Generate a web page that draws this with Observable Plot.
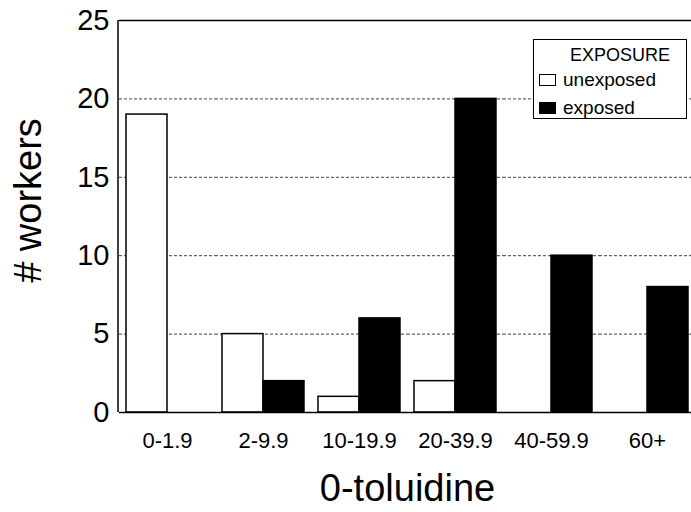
<!DOCTYPE html>
<html>
<head>
<meta charset="utf-8">
<script src="https://cdn.jsdelivr.net/npm/d3@7"></script>
<script src="https://cdn.jsdelivr.net/npm/@observablehq/plot@0.6"></script>
<style>
  html, body { margin: 0; padding: 0; background: #fff; }
  #wrap { position: relative; width: 691px; height: 512px; overflow: hidden; font-family: "Liberation Sans", Arial, sans-serif; }
  #legend { position: absolute; left: 533px; top: 39px; width: 152px; height: 78px; border: 1.5px solid #000; background: #fff; color: #000; }
  #legend .title { position: absolute; left: 0; right: 0; top: 5px; text-align: center; font-size: 18px; line-height: 20px; padding-left: 20px; }
  #legend .row { position: absolute; left: 5px; font-size: 19px; line-height: 20px; display: flex; align-items: center; }
  #legend .sw { width: 17px; height: 12px; border: 1.5px solid #000; margin-right: 7px; box-sizing: border-box; }
</style>
</head>
<body>
<div id="wrap"></div>
<script>
const categories = ["0-1.9", "2-9.9", "10-19.9", "20-39.9", "40-59.9", "60+"];
const exposures = ["unexposed", "exposed"];
const unexposed = [19, 5, 1, 2, 0, 0];
const exposed = [0, 2, 6, 20, 10, 8];
const yTicks = [0, 5, 10, 15, 20, 25];
const gridTicks = [5, 10, 15, 20];
const colors = ["#ffffff", "#000000"];
const yTitle = "# workers";
const xTitle = "0-toluidine";

const rows = [];
categories.forEach((c, i) => {
  if (unexposed[i] > 0) rows.push({category: c, exposure: "unexposed", count: unexposed[i]});
  if (exposed[i] > 0) rows.push({category: c, exposure: "exposed", count: exposed[i]});
});

const chart = Plot.plot({
  width: 691,
  height: 512,
  marginLeft: 118,
  marginRight: -4,
  marginTop: 20,
  marginBottom: 100,
  style: {fontFamily: "'Liberation Sans', Arial, sans-serif", color: "#000", background: "#fff", overflow: "visible"},
  fx: {domain: categories, paddingInner: 0, paddingOuter: 0},
  x: {domain: exposures, paddingInner: 0, paddingOuter: 0.159, axis: null},
  y: {domain: [0, 25]},
  color: {domain: exposures, range: colors},
  marks: [
    Plot.ruleY(gridTicks, {stroke: "#000", strokeWidth: 1, strokeDasharray: "3,2", strokeOpacity: 0.75}),
    Plot.barY(rows, {fx: "category", x: "exposure", y: "count", fill: "exposure", stroke: "#000", strokeWidth: 1.5}),
    Plot.ruleY([0, 25], {stroke: "#000", strokeWidth: 1.5}),
    Plot.axisY({ticks: yTicks, tickSize: 0, tickPadding: 10, fontSize: 29, label: null}),
    Plot.text([yTitle], {fx: () => categories[0], text: d => d, frameAnchor: "left", textAnchor: "middle", lineAnchor: "middle", rotate: -90, dx: -91, dy: -16, fontSize: 38, fill: "#000"}),
    Plot.axisFx({anchor: "bottom", tickSize: 0, tickPadding: 20, fontSize: 22, label: null}),
    Plot.axisFx({anchor: "bottom", ticks: [], label: xTitle, labelAnchor: "center", labelArrow: "none", labelOffset: 88, fontSize: 38, dx: -6})
  ]
});

const wrap = document.getElementById("wrap");
wrap.appendChild(chart);

// left frame border
const ys = chart.scale("y");
d3.select(chart).append("line")
  .attr("x1", 118).attr("x2", 118)
  .attr("y1", ys.apply(0)).attr("y2", ys.apply(25))
  .attr("stroke", "#000").attr("stroke-width", 1.5);

// legend
const legend = document.createElement("div");
legend.id = "legend";
legend.innerHTML = `<div class="title">EXPOSURE</div>` +
  exposures.map((e, i) => `<div class="row" style="top:${30 + i * 28}px"><span class="sw" style="background:${colors[i]}"></span>${e}</div>`).join("");
wrap.appendChild(legend);
</script>
</body>
</html>
